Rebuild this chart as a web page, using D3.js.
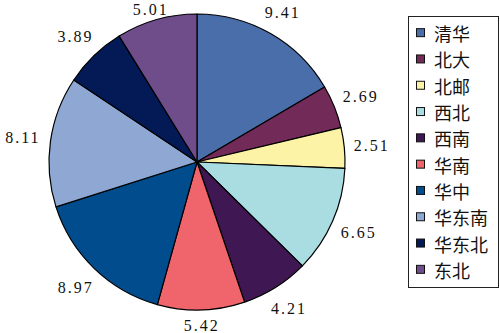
<!DOCTYPE html>
<html>
<head>
<meta charset="utf-8">
<script src="https://cdn.jsdelivr.net/npm/d3@7"></script>
<style>
  html, body { margin: 0; padding: 0; background: #fff; }
  svg { display: block; }
  .val { font-family: "Liberation Serif", "Times New Roman", serif; }
  .leg { font-family: "Noto Sans CJK SC", sans-serif; }
</style>
</head>
<body>
<svg id="chart" width="500" height="333"></svg>
<script>
// Regions and their shares
const regions = ["清华", "北大", "北邮", "西北", "西南", "华南", "华中", "华东南", "华东北", "东北"];
const values  = [9.41, 2.69, 2.51, 6.65, 4.21, 5.42, 8.97, 8.11, 3.89, 5.01];
const colors  = ["#4a6eaa", "#722a58", "#fdf3a6", "#a9dde2", "#3f1752", "#f0646c",
                 "#014c8d", "#8ea7d3", "#031a57", "#6f4d8b"];

const svg = d3.select("#chart");
const W = 500, H = 333;
const cx = 197, cy = 162, r = 148;

const data = regions.map((name, i) => ({ name, value: values[i], color: colors[i] }));

const pie = d3.pie().value(d => d.value).sort(null);
const arc = d3.arc().innerRadius(0).outerRadius(r);
const arcs = pie(data);

const g = svg.append("g").attr("transform", `translate(${cx},${cy})`);

g.selectAll("path.slice")
  .data(arcs)
  .join("path")
  .attr("class", "slice")
  .attr("d", arc)
  .attr("fill", d => d.data.color)
  .attr("stroke", "#000")
  .attr("stroke-width", 1.2)
  .attr("stroke-linejoin", "round");

// Value labels placed just outside each slice's outer edge, kept inside the frame
const labelFont = 16, boxW = 34, boxH = 14, gap = 10;
g.selectAll("text.val")
  .data(arcs)
  .join("text")
  .attr("class", "val")
  .each(function(d) {
    const a = (d.startAngle + d.endAngle) / 2;
    const s = Math.sin(a), c = -Math.cos(a);
    const off = r + gap + Math.abs(s) * boxW / 2 + Math.abs(c) * boxH / 2;
    const x = Math.max(boxW / 2 - cx, s * off);
    const y = Math.min(H - 8 - cy, Math.max(9 - cy, c * off));
    d3.select(this).attr("x", x).attr("y", y);
  })
  .attr("text-anchor", "middle")
  .attr("dominant-baseline", "central")
  .attr("font-size", labelFont)
  .attr("letter-spacing", 2)
  .attr("fill", "#111")
  .text(d => d3.format(".2f")(d.data.value));

// Legend
const legX = 408, legY = 16, legW = 91, legH = 271;
const legend = svg.append("g");
legend.append("rect")
  .attr("x", legX + 0.5).attr("y", legY + 0.5)
  .attr("width", legW - 1).attr("height", legH)
  .attr("fill", "#fff")
  .attr("stroke", "#222")
  .attr("stroke-width", 1);

const rowY = d3.scaleBand().domain(regions).range([legY + 4, legY + legH - 4]);

const items = legend.selectAll("g.item")
  .data(data)
  .join("g")
  .attr("class", "item")
  .attr("transform", d => `translate(0,${rowY(d.name) + rowY.bandwidth() / 2})`);

items.append("rect")
  .attr("x", legX + 8.5).attr("y", -4.5)
  .attr("width", 8).attr("height", 8)
  .attr("fill", d => d.color)
  .attr("stroke", "#111")
  .attr("stroke-width", 1);

items.append("text")
  .attr("class", "leg")
  .attr("x", legX + 26)
  .attr("y", 0)
  .attr("dominant-baseline", "central")
  .attr("font-size", 18)
  .attr("fill", "#111")
  .text(d => d.name);
</script>
</body>
</html>
